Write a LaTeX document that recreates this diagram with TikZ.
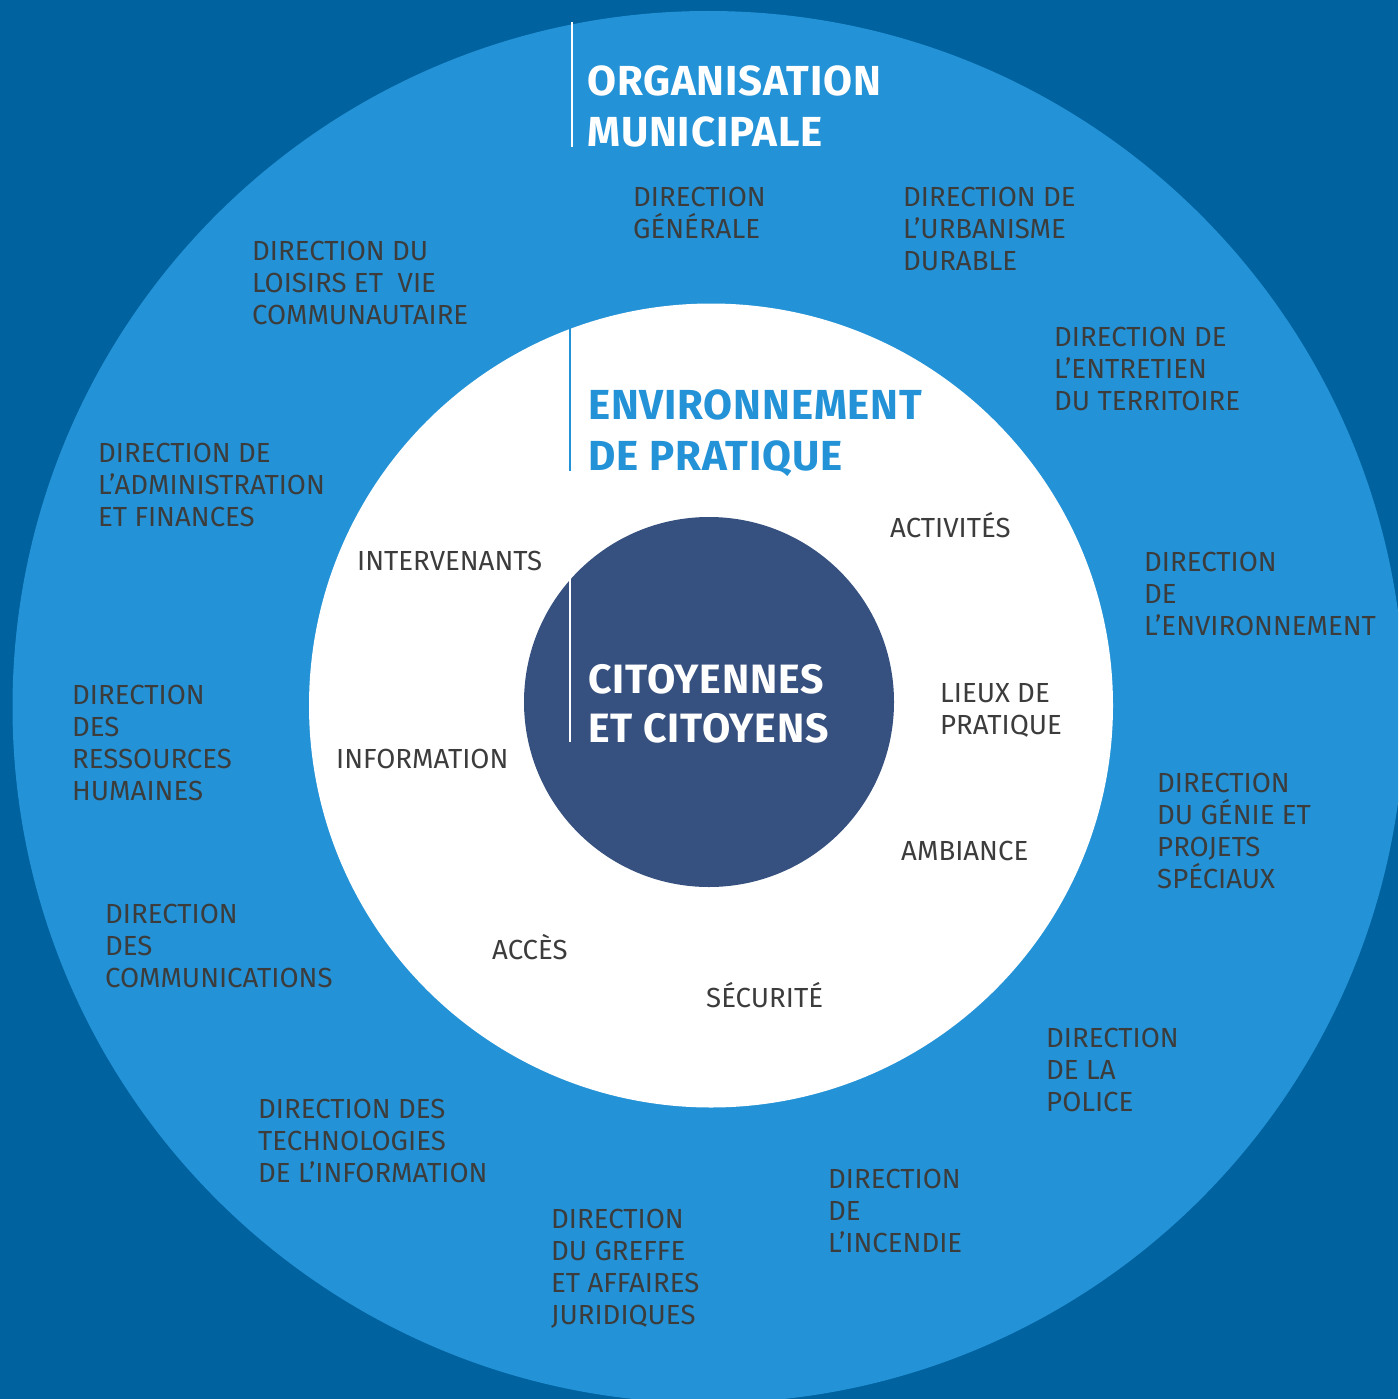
\documentclass[tikz,border=0pt]{standalone}
\usepackage{fontspec}
\setmainfont{Fira Sans}
\newfontfamily\titlefont{Fira Sans}[LetterSpace=2.0]
\definecolor{bgdark}{HTML}{0063A0}
\definecolor{orgblue}{HTML}{2392D6}
\definecolor{citnavy}{HTML}{36517F}
\definecolor{txtgray}{HTML}{3C3C3C}
\begin{document}
\begin{tikzpicture}[x=1pt,y=-1pt,
  lbl/.style={anchor=base west, inner sep=0pt, align=left, text=txtgray, font=\fontsize{27.6}{32}\selectfont},
  ttl/.style={anchor=base west, inner sep=0pt, align=left, font=\titlefont\bfseries\fontsize{42}{51}\selectfont},
  rule/.style={line width=2.6pt}]
\useasboundingbox (0,0) rectangle (1398,1399);
\fill[bgdark] (0,0) rectangle (1398,1399);
\clip (0,0) rectangle (1398,1399);
% circles
\node[circle, fill=orgblue, minimum size=1392pt, inner sep=0pt] (org) at (708.5,707) {};
\node[circle, fill=white, minimum size=804pt, inner sep=0pt] (env) at (711,705.5) {};
\node[circle, fill=citnavy, minimum size=370pt, inner sep=0pt] (cit) at (709,702) {};
% rules
\coordinate (r1a) at (572,22); \coordinate (r1b) at (572,147);
\coordinate (r2a) at (570,322); \coordinate (r2b) at (570,471);
\coordinate (r3a) at (570,578); \coordinate (r3b) at (570,742);
\draw[rule, white] (r1a) -- (r1b);
\draw[rule, orgblue] (r2a) -- (r2b);
\draw[rule, white] (r3a) -- (r3b);
% titles (anchor = baseline of last line)
\node[ttl, text=white] (torg) at (587,147) {ORGANISATION\\MUNICIPALE};
\node[ttl, text=orgblue] (tenv) at (588,470) {ENVIRONNEMENT\\DE PRATIQUE};
\node[ttl, text=white, font=\titlefont\bfseries\fontsize{41}{49}\selectfont] (tcit) at (588,742) {CITOYENNES\\ET CITOYENS};
% directions
\node[lbl] (d1) at (633,238.5) {DIRECTION\\GÉNÉRALE};
\node[lbl] (d2) at (903,270.5) {DIRECTION DE\\L’URBANISME\\DURABLE};
\node[lbl] (d3) at (252,324.5) {DIRECTION DU\\LOISIRS ET\ \ VIE\\COMMUNAUTAIRE};
\node[lbl] (d4) at (1054,410.5) {DIRECTION DE\\L’ENTRETIEN\\DU TERRITOIRE};
\node[lbl] (d5) at (98,526.5) {DIRECTION DE\\L’ADMINISTRATION\\ET FINANCES};
\node[lbl] (d6) at (1144,635.5) {DIRECTION\\DE\\L’ENVIRONNEMENT};
\node[lbl] (d7) at (72,800.5) {DIRECTION\\DES\\RESSOURCES\\HUMAINES};
\node[lbl] (d8) at (1157,888.5) {DIRECTION\\DU GÉNIE ET\\PROJETS\\SPÉCIAUX};
\node[lbl] (d9) at (105,987.5) {DIRECTION\\DES\\COMMUNICATIONS};
\node[lbl] (d10) at (1046,1111.5) {DIRECTION\\DE LA\\POLICE};
\node[lbl] (d11) at (258,1182.5) {DIRECTION DES\\TECHNOLOGIES\\DE L’INFORMATION};
\node[lbl] (d12) at (828,1252.5) {DIRECTION\\DE\\L’INCENDIE};
\node[lbl] (d13) at (551,1324.5) {DIRECTION\\DU GREFFE\\ET AFFAIRES\\JURIDIQUES};
% environment labels
\node[lbl] (e1) at (357,570) {INTERVENANTS};
\node[lbl] (e2) at (890,537) {ACTIVITÉS};
\node[lbl] (e3) at (940,734.5) {LIEUX DE\\PRATIQUE};
\node[lbl] (e4) at (336,768.5) {INFORMATION};
\node[lbl] (e5) at (901,860.5) {AMBIANCE};
\node[lbl] (e6) at (492,959.5) {ACCÈS};
\node[lbl] (e7) at (706,1007.5) {SÉCURITÉ};
\end{tikzpicture}
\end{document}
